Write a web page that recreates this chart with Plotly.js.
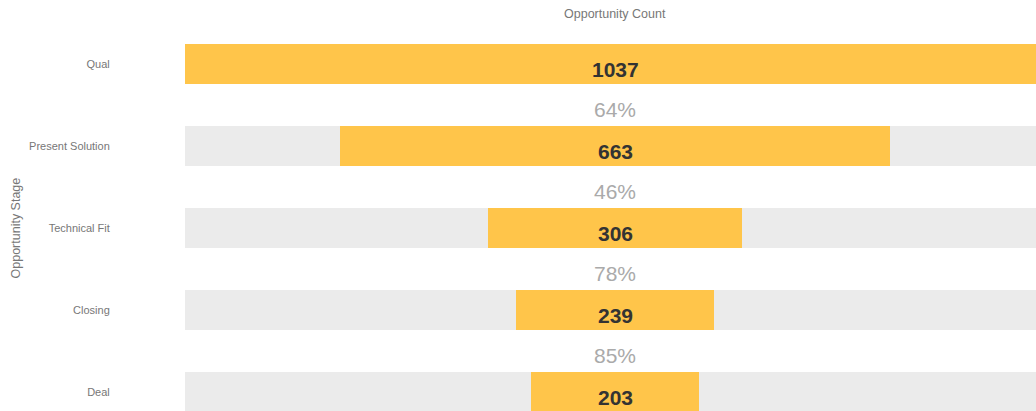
<!DOCTYPE html>
<html>
<head>
<meta charset="utf-8">
<script src="https://cdn.plot.ly/plotly-3.0.1.min.js"></script>
<style>
html,body{margin:0;padding:0;background:#fff;}
#chart{width:1036px;height:411px;}
</style>
</head>
<body>
<div id="chart"></div>
<script>
// Data
const stages = ["Qual", "Present Solution", "Technical Fit", "Closing", "Deal"];
const counts = [1037, 663, 306, 239, 203];
const conversionLabels = ["64%", "46%", "78%", "85%"];

const maxCount = Math.max(...counts);
const rowIdx = stages.map((_, i) => i);
const mid = maxCount / 2;

const FONT = "Liberation Sans, Arial, sans-serif";

const bandTrace = {
  type: "bar",
  orientation: "h",
  y: rowIdx,
  x: stages.map(() => maxCount),
  base: stages.map(() => 0),
  width: 0.49,
  marker: {color: "#ebebeb"},
  hoverinfo: "skip",
  showlegend: false
};

const barTrace = {
  type: "bar",
  orientation: "h",
  y: rowIdx,
  x: counts,
  base: counts.map(v => (maxCount - v) / 2),
  width: 0.49,
  marker: {color: "#ffc54a"},
  hoverinfo: "skip",
  showlegend: false
};

const annotations = [];
counts.forEach((v, i) => {
  annotations.push({
    x: mid, y: i, xref: "x", yref: "y",
    text: String(v), showarrow: false,
    yshift: -5,
    font: {family: FONT, size: 21, color: "#333333", weight: "bold"}
  });
});
conversionLabels.forEach((t, i) => {
  annotations.push({
    x: mid, y: i + 0.5, xref: "x", yref: "y",
    text: t, showarrow: false,
    yshift: -4,
    font: {family: FONT, size: 21, color: "#aaaaaa"}
  });
});
annotations.push({
  x: -0.1986, y: 0.5, xref: "paper", yref: "paper",
  text: "Opportunity Stage", showarrow: false, textangle: -90,
  xanchor: "center", yanchor: "middle",
  font: {family: FONT, size: 12.5, color: "#777777"}
});
annotations.push({
  x: mid, y: 1 + (44 - 14) / 367, xref: "x", yref: "paper",
  text: "Opportunity Count", showarrow: false, yanchor: "middle",
  font: {family: FONT, size: 12.5, color: "#777777"}
});

const layout = {
  width: 1036, height: 411,
  margin: {l: 185, r: 0, t: 44, b: 0},
  paper_bgcolor: "#ffffff",
  plot_bgcolor: "#ffffff",
  barmode: "overlay",
  bargap: 0,
  showlegend: false,
  xaxis: {
    range: [0, 1026],
    showgrid: false, zeroline: false, showticklabels: false,
    showline: false, fixedrange: true
  },
  yaxis: {
    range: [4.23, -0.244],
    tickmode: "array",
    tickvals: rowIdx,
    ticktext: stages,
    ticks: "outside",
    ticklen: 72,
    tickcolor: "rgba(0,0,0,0)",
    showgrid: false, zeroline: false, showline: false,
    tickfont: {family: FONT, size: 11, color: "#777777"},
    fixedrange: true
  },
  annotations: annotations
};

Plotly.newPlot("chart", [bandTrace, barTrace], layout, {displayModeBar: false, staticPlot: true});
</script>
</body>
</html>
